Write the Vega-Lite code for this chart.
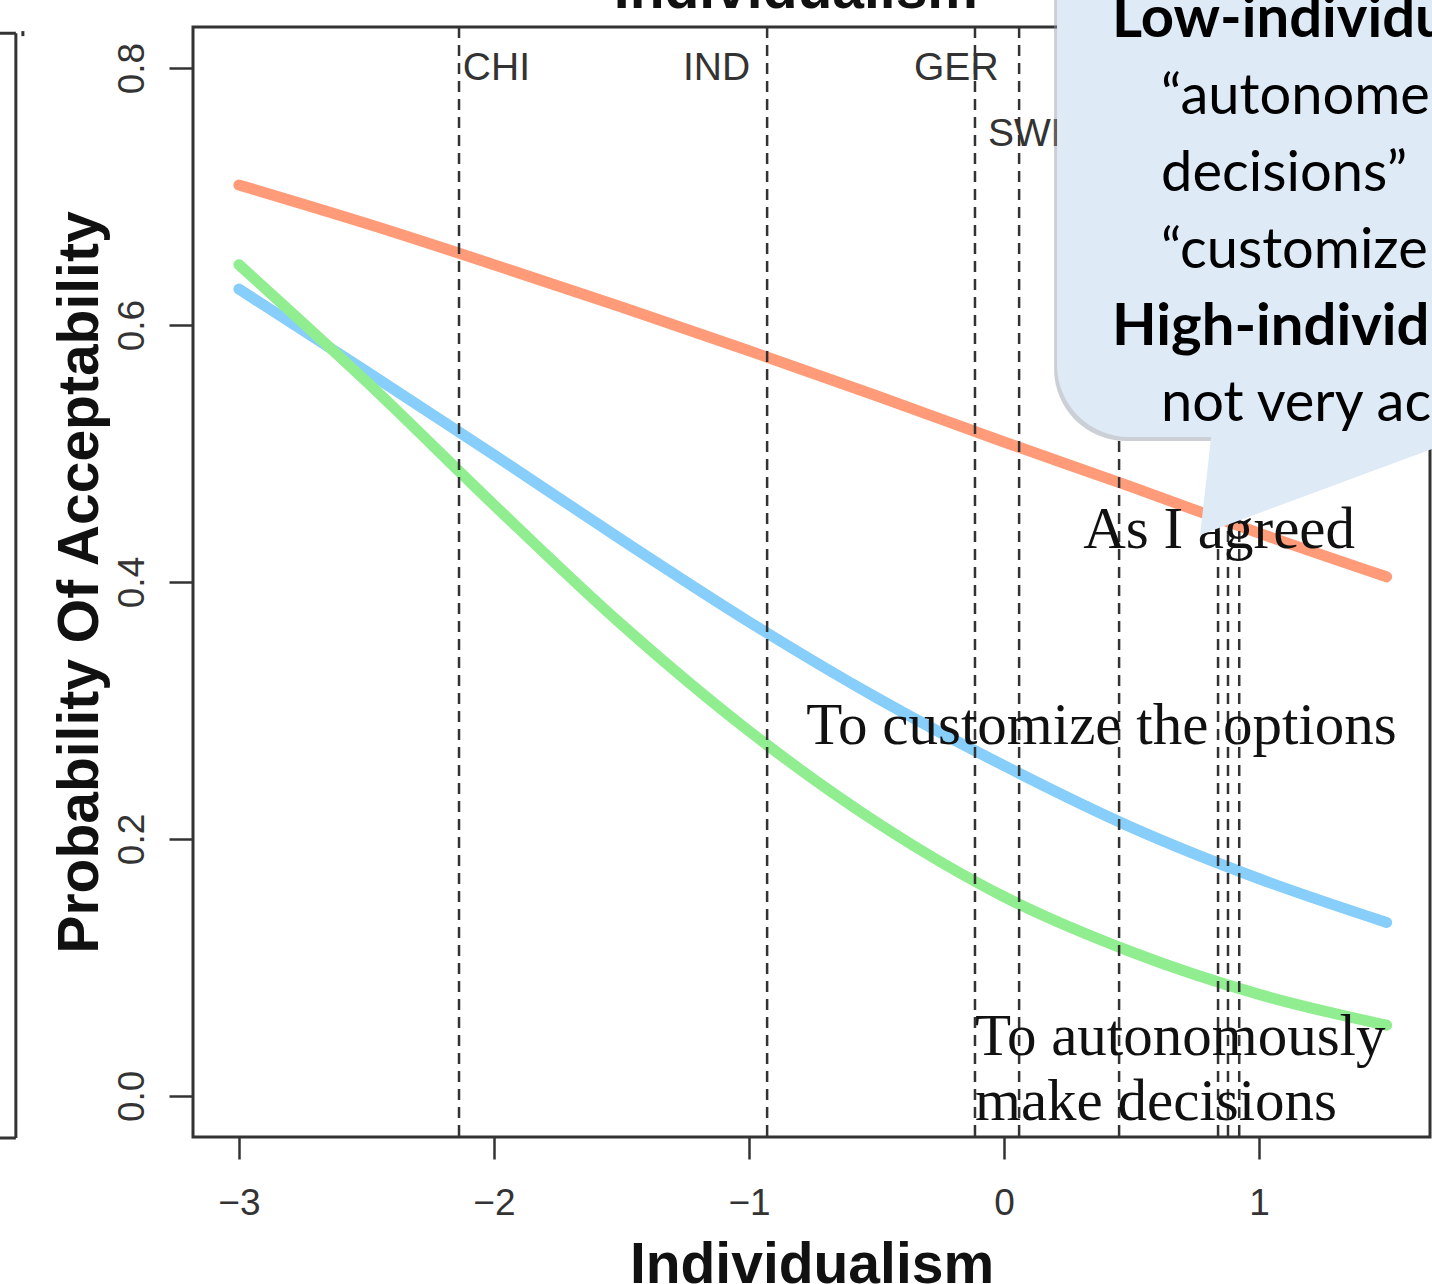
{
  "$schema": "https://vega.github.io/schema/vega-lite/v6.json",
  "width": 1237,
  "height": 1110,
  "autosize": {"type": "none"},
  "padding": {"left": 193, "top": 27, "right": 2, "bottom": 147},
  "background": "white",
  "config": {"view": {"stroke": "#333", "strokeWidth": 3}, "axis": {"grid": false}},
  "datasets": {
    "curves": [
      {"x": -3, "p": 0.709, "series": "As I agreed"}, {"x": -2.5, "p": 0.679, "series": "As I agreed"}, {"x": -2, "p": 0.647, "series": "As I agreed"}, {"x": -1.5, "p": 0.614, "series": "As I agreed"}, {"x": -1, "p": 0.580, "series": "As I agreed"}, {"x": -0.5, "p": 0.545, "series": "As I agreed"}, {"x": 0, "p": 0.509, "series": "As I agreed"}, {"x": 0.5, "p": 0.474, "series": "As I agreed"}, {"x": 1, "p": 0.438, "series": "As I agreed"}, {"x": 1.5, "p": 0.404, "series": "As I agreed"},
      {"x": -3, "p": 0.628, "series": "To customize the options"}, {"x": -2.5, "p": 0.564, "series": "To customize the options"}, {"x": -2, "p": 0.499, "series": "To customize the options"}, {"x": -1.5, "p": 0.433, "series": "To customize the options"}, {"x": -1, "p": 0.369, "series": "To customize the options"}, {"x": -0.5, "p": 0.310, "series": "To customize the options"}, {"x": 0, "p": 0.257, "series": "To customize the options"}, {"x": 0.5, "p": 0.209, "series": "To customize the options"}, {"x": 1, "p": 0.169, "series": "To customize the options"}, {"x": 1.5, "p": 0.135, "series": "To customize the options"},
      {"x": -3, "p": 0.647, "series": "To autonomously make decisions"}, {"x": -2.5, "p": 0.556, "series": "To autonomously make decisions"}, {"x": -2, "p": 0.460, "series": "To autonomously make decisions"}, {"x": -1.5, "p": 0.367, "series": "To autonomously make decisions"}, {"x": -1, "p": 0.284, "series": "To autonomously make decisions"}, {"x": -0.5, "p": 0.213, "series": "To autonomously make decisions"}, {"x": 0, "p": 0.155, "series": "To autonomously make decisions"}, {"x": 0.5, "p": 0.112, "series": "To autonomously make decisions"}, {"x": 1, "p": 0.079, "series": "To autonomously make decisions"}, {"x": 1.5, "p": 0.055, "series": "To autonomously make decisions"}
    ],
    "countries": [
      {"x": -2.137}, {"x": -0.929}, {"x": -0.114}, {"x": 0.059}, {"x": 0.451}, {"x": 0.839}, {"x": 0.878}, {"x": 0.922}
    ],
    "countryLabels": [
      {"x": -2.122, "y": 0.8, "label": "CHI"},
      {"x": -1.259, "y": 0.8, "label": "IND"},
      {"x": -0.353, "y": 0.8, "label": "GER"},
      {"x": -0.063, "y": 0.749, "label": "SWE"}
    ],
    "seriesLabels": [
      {"x": 0.310, "y": 0.4265, "label": "As I agreed"},
      {"x": -0.776, "y": 0.274, "label": "To customize the options"},
      {"x": -0.114, "y": 0.032, "label": "To autonomously"},
      {"x": -0.114, "y": -0.0187, "label": "make decisions"}
    ],
    "topTitle": [{"x": -0.816, "y": 0.8467, "label": "Individualism"}],
    "leftPanel": [
      {"x": -3.8745, "x2": -3.8745, "y": -0.0327, "y2": 0.8272},
      {"x": -4.8, "x2": -3.8745, "y": 0.8272, "y2": 0.8272},
      {"x": -4.8, "x2": -3.8745, "y": -0.0327, "y2": -0.0327},
      {"x": -3.847, "x2": -3.847, "y": 0.8249, "y2": 0.8288}
    ],
    "bubble": [{"x": 0.2078, "x2": 2.5, "y": 0.5128, "y2": 1.2}],
    "tail": [
      {"ty": 0.5261, "tx": 0.8196, "tx2": 2.5},
      {"ty": 0.5128, "tx": 0.8118, "tx2": 1.804},
      {"ty": 0.4366, "tx": 0.7686, "tx2": 0.7686}
    ],
    "bubbleBold": [
      {"x": 0.4235, "y": 0.8241, "text": "Low-individual"},
      {"x": 0.4235, "y": 0.5844, "text": "High-individual"}
    ],
    "bubbleText": [
      {"x": 0.6157, "y": 0.7642, "text": "“autonome"},
      {"x": 0.6157, "y": 0.7043, "text": "decisions”"},
      {"x": 0.6157, "y": 0.6444, "text": "“customize"},
      {"x": 0.6157, "y": 0.5253, "text": "not very acc"}
    ]
  },
  "layer": [
    {
      "data": {"name": "curves"},
      "mark": {"type": "line", "strokeWidth": 11, "strokeCap": "round", "interpolate": "monotone"},
      "encoding": {
        "x": {"field": "x", "type": "quantitative", "scale": {"domain": [-3.18, 1.67], "nice": false, "zero": false},
          "axis": {"values": [-3, -2, -1, 0, 1], "format": "d", "domain": false, "tickSize": 22, "tickWidth": 2.5, "tickColor": "#333", "labelFont": "Liberation Sans", "labelFontSize": 37, "labelColor": "#333", "labelBaseline": "alphabetic", "labelPadding": 55, "labelFlush": false, "labelOverlap": false, "title": "Individualism", "titleFont": "Liberation Sans", "titleFontSize": 57, "titleFontWeight": "bold", "titleColor": "#111", "titleY": 145, "titleBaseline": "alphabetic"}},
        "y": {"field": "p", "type": "quantitative", "scale": {"domain": [-0.032, 0.832], "nice": false, "zero": false},
          "axis": {"values": [0, 0.2, 0.4, 0.6, 0.8], "format": ".1f", "domain": false, "tickSize": 24, "tickWidth": 2.5, "tickColor": "#333", "labelAngle": -90, "labelAlign": "center", "labelBaseline": "alphabetic", "labelPadding": 26, "labelFont": "Liberation Sans", "labelFontSize": 37, "labelColor": "#333", "labelOverlap": false, "title": "Probability Of Acceptability", "titleFont": "Liberation Sans", "titleFontSize": 57, "titleFontWeight": "bold", "titleColor": "#111", "titleX": -113, "titleY": 555, "titleAngle": -90, "titleAlign": "center", "titleBaseline": "middle"}},
        "color": {"field": "series", "type": "nominal", "scale": {"domain": ["To customize the options", "To autonomously make decisions", "As I agreed"], "range": ["#87CEFA", "#90EE90", "#FF9B78"]}, "legend": null},
        "order": {"field": "x", "type": "quantitative"}
      }
    },
    {
      "data": {"name": "countries"},
      "mark": {"type": "rule", "stroke": "#333", "strokeWidth": 2.5, "strokeDash": [11, 7]},
      "encoding": {"x": {"field": "x", "type": "quantitative"}}
    },
    {
      "data": {"name": "leftPanel"},
      "mark": {"type": "rule", "stroke": "#333", "strokeWidth": 3, "clip": false},
      "encoding": {
        "x": {"field": "x", "type": "quantitative"}, "x2": {"field": "x2"},
        "y": {"field": "y", "type": "quantitative"}, "y2": {"field": "y2"}
      }
    },
    {
      "data": {"name": "topTitle"},
      "mark": {"type": "text", "align": "center", "baseline": "alphabetic", "font": "Liberation Sans", "fontSize": 57, "fontWeight": "bold", "color": "#111", "clip": false},
      "encoding": {
        "x": {"field": "x", "type": "quantitative"},
        "y": {"field": "y", "type": "quantitative"},
        "text": {"field": "label"}
      }
    },
    {
      "data": {"name": "countryLabels"},
      "mark": {"type": "text", "align": "left", "baseline": "middle", "font": "Liberation Sans", "fontSize": 39, "color": "#333"},
      "encoding": {
        "x": {"field": "x", "type": "quantitative"},
        "y": {"field": "y", "type": "quantitative"},
        "text": {"field": "label"}
      }
    },
    {
      "data": {"name": "seriesLabels"},
      "mark": {"type": "text", "align": "left", "baseline": "alphabetic", "font": "Liberation Serif", "fontSize": 59, "color": "#111"},
      "encoding": {
        "x": {"field": "x", "type": "quantitative"},
        "y": {"field": "y", "type": "quantitative"},
        "text": {"field": "label"}
      }
    },
    {
      "data": {"name": "bubble"},
      "mark": {"type": "rect", "fill": "#8d96a3", "opacity": 0.45, "cornerRadius": 72, "xOffset": -3, "yOffset": 4, "clip": false},
      "encoding": {
        "x": {"field": "x", "type": "quantitative"}, "x2": {"field": "x2"},
        "y": {"field": "y", "type": "quantitative"}, "y2": {"field": "y2"}
      }
    },
    {
      "data": {"name": "tail"},
      "mark": {"type": "area", "orient": "horizontal", "fill": "#DEEAF6", "clip": false},
      "encoding": {
        "y": {"field": "ty", "type": "quantitative"},
        "x": {"field": "tx", "type": "quantitative"}, "x2": {"field": "tx2"}
      }
    },
    {
      "data": {"name": "bubble"},
      "mark": {"type": "rect", "fill": "#DEEAF6", "cornerRadius": 72, "clip": false},
      "encoding": {
        "x": {"field": "x", "type": "quantitative"}, "x2": {"field": "x2"},
        "y": {"field": "y", "type": "quantitative"}, "y2": {"field": "y2"}
      }
    },
    {
      "data": {"name": "bubbleBold"},
      "mark": {"type": "text", "align": "left", "baseline": "alphabetic", "font": "Lato", "fontSize": 58, "fontWeight": "bold", "color": "#000", "clip": false},
      "encoding": {
        "x": {"field": "x", "type": "quantitative"},
        "y": {"field": "y", "type": "quantitative"},
        "text": {"field": "text"}
      }
    },
    {
      "data": {"name": "bubbleText"},
      "mark": {"type": "text", "align": "left", "baseline": "alphabetic", "font": "Lato", "fontSize": 56, "color": "#000", "clip": false},
      "encoding": {
        "x": {"field": "x", "type": "quantitative"},
        "y": {"field": "y", "type": "quantitative"},
        "text": {"field": "text"}
      }
    }
  ]
}
